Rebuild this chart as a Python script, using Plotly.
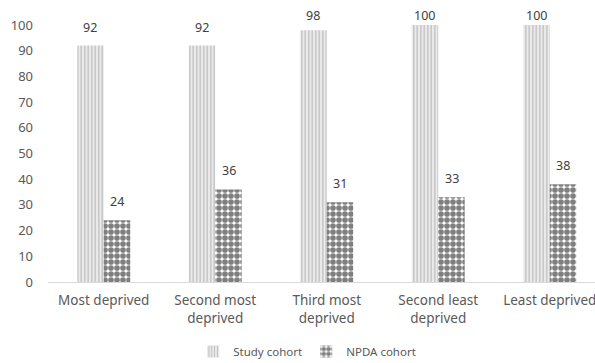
import plotly.graph_objects as go

categories = ["Most deprived", "Second most<br>deprived", "Third most<br>deprived",
              "Second least<br>deprived", "Least deprived"]
study_cohort = [92, 92, 98, 100, 100]
npda_cohort = [24, 36, 31, 33, 38]

text_color = "#595959"
font_family = "Noto Sans, Open Sans, sans-serif"

fig = go.Figure()
fig.add_trace(go.Bar(
    name="Study cohort", x=categories, y=study_cohort,
    marker=dict(color="#e6e6e6", line=dict(width=0),
                pattern=dict(shape="|", fgcolor="#959595", bgcolor="#ebebeb",
                             size=3.5, solidity=0.4)),
))
fig.add_trace(go.Bar(
    name="NPDA cohort", x=categories, y=npda_cohort,
    marker=dict(color="#ffffff", line=dict(width=0),
                pattern=dict(shape=".", fgcolor="#000000", bgcolor="#ffffff",
                             size=6, solidity=0.7)),
))

# value labels above each bar, kept inside the top of the chart area
for series, shift in ((study_cohort, -13.5), (npda_cohort, 13.5)):
    for cat, val in zip(categories, series):
        fig.add_annotation(x=cat, y=min(val, 96.5), text=str(val), showarrow=False,
                           xshift=shift, yshift=8, yanchor="bottom",
                           font=dict(size=12.5, color="#404040", family=font_family))

fig.update_layout(
    width=595, height=363,
    margin=dict(l=48, r=0, t=25, b=81, autoexpand=False),
    paper_bgcolor="white", plot_bgcolor="white",
    barmode="group", bargap=0.525, bargroupgap=0,
    font=dict(family=font_family, size=12, color=text_color),
    showlegend=True,
    legend=dict(orientation="h", x=0.472, xanchor="center", y=-0.214, yanchor="top",
                font=dict(size=11.5, color=text_color), itemwidth=30,
                entrywidth=68, entrywidthmode="pixels", traceorder="normal"),
)
fig.update_xaxes(range=[-0.5, 4.406], showline=True, linecolor="#d9d9d9", linewidth=1,
                 showgrid=False, ticks="", ticklabelstandoff=6, automargin=False,
                 tickfont=dict(size=13.5, color=text_color))
fig.update_yaxes(range=[0, 100], dtick=10, showgrid=False, zeroline=False, showline=False,
                 ticks="", ticklabelstandoff=14, automargin=False,
                 tickfont=dict(size=13, color=text_color))

fig.write_html("out.html")
